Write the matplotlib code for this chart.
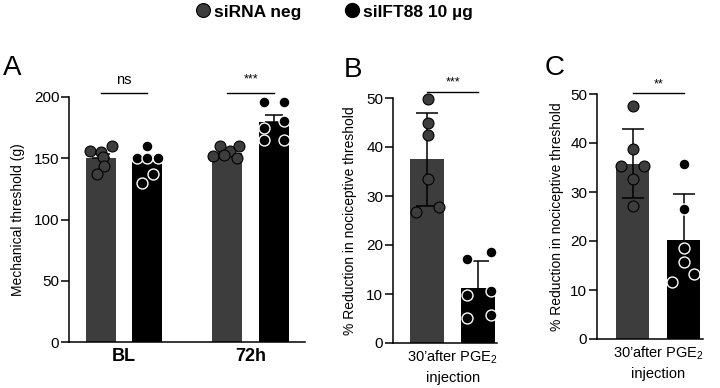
import numpy as np
import matplotlib
matplotlib.use("Agg")
import matplotlib.pyplot as plt
from matplotlib.lines import Line2D

plt.rcParams['font.family'] = ['Liberation Sans', 'DejaVu Sans']
plt.rcParams['mathtext.fontset'] = 'custom'
plt.rcParams['mathtext.rm'] = 'Liberation Sans'
plt.rcParams['mathtext.it'] = 'Liberation Sans:italic'
plt.rcParams['mathtext.bf'] = 'Liberation Sans:bold'

# DATA
legend_labels = ["siRNA neg", "siIFT88 10 \u00b5g"]

# panel A: mechanical threshold (g), BL and 72h
a_times = ["BL", "72h"]
a_neg_bl = [156, 155, 160, 151, 144, 137]
a_sil_bl = [160, 150, 150, 150, 137, 130]
a_neg_72 = [160, 152, 156, 160, 150, 153]
a_sil_72 = [196, 196, 175, 180, 165, 165]
a_means = [[150, 147], [154, 179.5]]
a_sem = [[3.3, 4.7], [1.6, 6.0]]
a_sig = ["ns", "***"]

# panel B: % reduction 30' after PGE2
b_neg = [49.7, 44.9, 42.5, 33.4, 26.8, 27.7]
b_sil = [17.1, 18.6, 9.8, 10.6, 5.1, 5.8]
b_means = [37.5, 11.2]
b_sd = [9.5, 5.6]

# panel C
c_neg = [47.6, 38.8, 35.4, 35.4, 32.7, 27.1]
c_sil = [35.7, 26.6, 18.6, 15.7, 13.3, 11.6]
c_means = [35.8, 20.3]
c_sd = [7.1, 9.2]

bc_xlabel = "30\u2019after PGE$_2$\ninjection"
ylab_a = "Mechanical threshold (g)"
ylab_bc = "% Reduction in nociceptive threshold"

# jitter of dots (x offsets, in bar units)
jit_a = [[-0.08, 0.0, 0.09, 0.02, 0.03, -0.03],
         [0.0, -0.085, 0.0, 0.085, 0.045, -0.045],
         [-0.055, -0.11, 0.025, 0.09, 0.08, -0.03],
         [-0.083, 0.075, -0.083, 0.075, -0.083, 0.075]]
jit_b = [[0.02, 0.02, 0.02, 0.02, -0.21, 0.23],
         [-0.23, 0.24, -0.23, 0.24, -0.23, 0.24]]
jit_c = [[0.0, 0.0, -0.22, 0.23, 0.0, 0.0],
         [0.0, 0.0, 0.0, 0.0, 0.21, -0.22]]

GRAY = "#3d3d3d"
BLACK = "#000000"
W, H = 720, 388

fig = plt.figure(figsize=(7.2, 3.88), dpi=100)


def px_axes(x0, x1, ytop, ybot):
    return fig.add_axes([x0 / W, (H - ybot) / H, (x1 - x0) / W, (ybot - ytop) / H])


def style(ax, ymax, step):
    ax.spines['top'].set_visible(False)
    ax.spines['right'].set_visible(False)
    ax.spines['left'].set_linewidth(1.1)
    ax.spines['bottom'].set_linewidth(1.1)
    ax.set_ylim(0, ymax)
    ax.set_yticks(np.arange(0, ymax + 1, step))
    ax.tick_params(axis='y', length=5.5, width=1.1, labelsize=11, pad=1.5)
    ax.tick_params(axis='x', length=0, labelsize=10.5, pad=4)


def dots(ax, x, vals, jit, kind):
    xs = [x + j for j in jit]
    if kind == 0:
        ax.scatter(xs, vals, s=62, c=GRAY, edgecolors=BLACK, linewidths=0.8, zorder=4, clip_on=False)
    else:
        ax.scatter(xs, vals, s=62, c=BLACK, edgecolors="white", linewidths=1.0, zorder=4, clip_on=False)


def sig(ax, x0, x1, y, ty, txt, fs):
    ax.plot([x0, x1], [y, y], color=BLACK, lw=1.0, clip_on=False)
    ax.text((x0 + x1) / 2, ty, txt, ha='center', va='center', fontsize=fs, clip_on=False)


# ---- panel A
axA = px_axes(69, 305, 97, 342)
style(axA, 200, 50)
axA.set_xlim(-0.434, 1.428)
off, bw = 0.185, 0.237
a_pts = [[a_neg_bl, a_sil_bl], [a_neg_72, a_sil_72]]
k = 0
for g in range(2):
    for s in range(2):
        x = g + (-off if s == 0 else off)
        col = GRAY if s == 0 else BLACK
        axA.bar(x, a_means[g][s], width=bw, color=col, zorder=2)
        axA.errorbar(x, a_means[g][s], yerr=[[0], [a_sem[g][s]]], fmt='none', ecolor=BLACK,
                     elinewidth=1.1, capsize=6.5, capthick=1.1, zorder=3)
        dots(axA, x, a_pts[g][s], jit_a[k], s)
        k += 1
axA.set_xticks([0, 1])
axA.set_xticklabels(a_times, fontweight='bold', fontsize=13)
axA.set_ylabel(ylab_a, fontsize=10)
axA.yaxis.set_label_coords((25 - 69) / 236, 0.5)
for g in range(2):
    fs = 10.5 if a_sig[g] == "ns" else 9
    sig(axA, g - off, g + off, 203.3, 214, a_sig[g], fs)


def panel_bc(ax, neg, sil, means, sd, jit, star, ly, ty):
    for s in range(2):
        col = GRAY if s == 0 else BLACK
        ax.bar(s, means[s], width=0.66, color=col, zorder=2)
        ax.errorbar(s, means[s], yerr=sd[s], fmt='none', ecolor=BLACK,
                    elinewidth=1.1, capsize=8, capthick=1.1, zorder=3)
    dots(ax, 0, neg, jit[0], 0)
    dots(ax, 1, sil, jit[1], 1)
    ax.set_xticks([0.5])
    labs = ax.set_xticklabels([bc_xlabel], fontsize=10.5, linespacing=1.45)
    for t in labs:
        t.set_multialignment('center')
    ax.set_ylabel(ylab_bc, fontsize=10)
    sig(ax, 0, 1, ly, ty, star, 9)


# ---- panel B
axB = px_axes(393, 497, 98, 343)
style(axB, 50, 10)
axB.set_xlim(-0.66, 1.36)
panel_bc(axB, b_neg, b_sil, b_means, b_sd, jit_b, "***", 51.2, 53.2)
axB.yaxis.set_label_coords((357 - 393) / 104, 0.5)

# ---- panel C
axC = px_axes(597, 703, 94, 339)
style(axC, 50, 10)
axC.set_xlim(-0.70, 1.38)
panel_bc(axC, c_neg, c_sil, c_means, c_sd, jit_c, "**", 50.2, 52.0)
axC.yaxis.set_label_coords((564 - 597) / 106, 0.5)

# panel letters
for lab, x, y in [("A", 12, 68), ("B", 353, 70), ("C", 555, 68)]:
    fig.text(x / W, 1 - y / H, lab, fontsize=20, ha='center', va='center')

# legend
handles = [Line2D([], [], marker='o', ls='none', markersize=10, markerfacecolor=GRAY,
                  markeredgecolor=BLACK, markeredgewidth=0.8),
           Line2D([], [], marker='o', ls='none', markersize=10, markerfacecolor=BLACK,
                  markeredgecolor=BLACK)]
fig.legend(handles, legend_labels, loc='center', bbox_to_anchor=(333 / W, 1 - 12 / H), ncol=2,
           frameon=False, handletextpad=0.05, columnspacing=2.3, handlelength=1.2,
           prop={'size': 12.5, 'weight': 'bold'})

fig.savefig("out.png", dpi=100)
